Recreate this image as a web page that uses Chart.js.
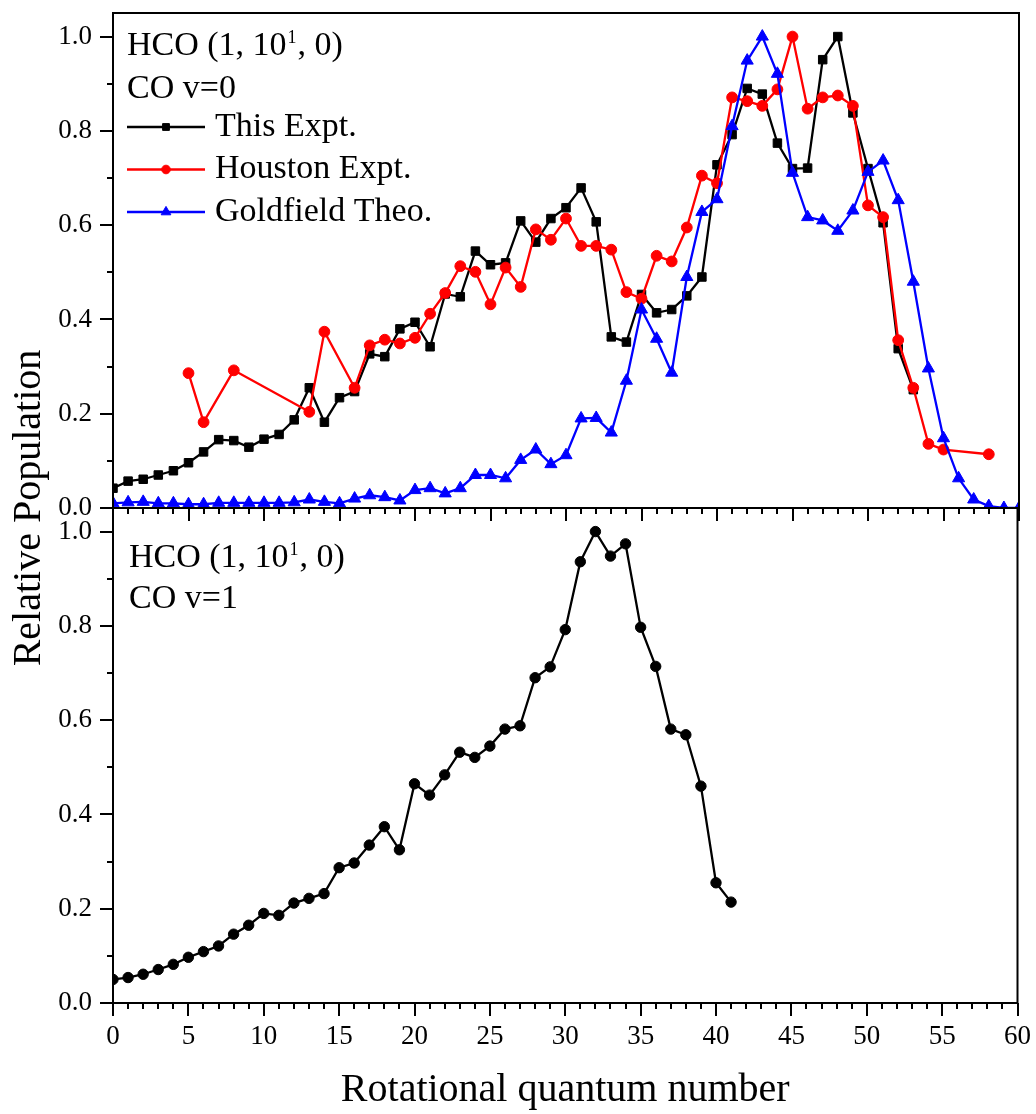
<!DOCTYPE html>
<html>
<head>
<meta charset="utf-8">
<title>HCO rotational distributions</title>
<script src="https://cdn.jsdelivr.net/npm/chart.js@4.4.1/dist/chart.umd.min.js"></script>
<style>
  html, body { margin: 0; padding: 0; background: #ffffff; }
  #wrap { position: relative; width: 1036px; height: 1114px; }
  #wrap canvas { position: absolute; left: 0; top: 0; }
</style>
</head>
<body>
<div id="wrap">
  <canvas id="lower" width="1036" height="1114"></canvas>
  <canvas id="upper" width="1036" height="1114"></canvas>
</div>
<script>
// ---- CO v=0 : rotational quantum number J and relative populations ----
const jThis = [0,1,2,3,4,5,6,7,8,9,10,11,12,13,14,15,16,17,18,19,20,21,22,23,24,25,26,
  27,28,29,30,31,32,33,34,35,36,37,38,39,40,41,42,43,44,45,46,47,48,49,50,51,52,53];
const popThis = [0.042,0.057,0.061,0.070,0.079,0.096,0.119,0.145,0.143,0.129,0.146,0.156,
  0.187,0.255,0.182,0.234,0.247,0.327,0.321,0.380,0.394,0.342,0.454,0.448,0.545,0.516,0.520,
  0.609,0.564,0.614,0.637,0.679,0.607,0.363,0.352,0.453,0.414,0.421,0.450,0.490,0.728,0.792,
  0.890,0.878,0.774,0.720,0.721,0.951,1.000,0.838,0.720,0.605,0.338,0.251];

const jHouston = [5,6,8,13,14,16,17,18,19,20,21,22,23,24,25,26,27,28,29,30,31,32,33,34,35,
  36,37,38,39,40,41,42,43,44,45,46,47,48,49,50,51,52,53,54,55,58];
const popHouston = [0.286,0.182,0.292,0.204,0.374,0.255,0.345,0.357,0.349,0.361,0.412,0.456,
  0.513,0.501,0.432,0.510,0.469,0.591,0.569,0.614,0.556,0.556,0.548,0.458,0.444,0.535,0.523,
  0.595,0.705,0.689,0.871,0.863,0.853,0.888,1.000,0.847,0.871,0.875,0.853,0.642,0.617,0.356,
  0.255,0.136,0.124,0.114];

const jTheo = [0,1,2,3,4,5,6,7,8,9,10,11,12,13,14,15,16,17,18,19,20,21,22,23,24,25,26,27,
  28,29,30,31,32,33,34,35,36,37,38,39,40,41,42,43,44,45,46,47,48,49,50,51,52,53,54,55,56,57,
  58,59,60];
const popTheo = [0.010,0.012,0.013,0.010,0.010,0.008,0.008,0.011,0.011,0.011,0.011,0.011,
  0.012,0.018,0.013,0.010,0.020,0.027,0.023,0.016,0.038,0.042,0.031,0.042,0.070,0.070,0.063,
  0.102,0.124,0.093,0.112,0.190,0.191,0.160,0.270,0.421,0.359,0.287,0.490,0.628,0.655,0.810,
  0.949,1.000,0.921,0.711,0.617,0.610,0.588,0.631,0.713,0.737,0.653,0.480,0.296,0.148,0.063,
  0.018,0.004,0.000,0.000];

// ---- CO v=1 ----
const jV1 = [0,1,2,3,4,5,6,7,8,9,10,11,12,13,14,15,16,17,18,19,20,21,22,23,24,25,26,27,28,
  29,30,31,32,33,34,35,36,37,38,39,40,41];
const popV1 = [0.050,0.054,0.061,0.071,0.082,0.097,0.109,0.121,0.146,0.165,0.190,0.186,0.212,
  0.222,0.232,0.287,0.297,0.335,0.374,0.325,0.465,0.441,0.484,0.532,0.521,0.545,0.581,0.588,
  0.690,0.713,0.792,0.936,1.000,0.948,0.974,0.797,0.714,0.581,0.569,0.460,0.255,0.214];

// ---- labels ----
const seriesNames = ['This Expt.', 'Houston Expt.', 'Goldfield Theo.'];
const panelLabels = [['HCO (1, 10', '1', ', 0)'], ['CO v=0', 'CO v=1']];
const xTitle = 'Rotational quantum number';
const yTitle = 'Relative Population';

const SERIF = "'Liberation Serif', 'Times New Roman', serif";
const W = 1036, H = 1114;
const PLOT_LEFT = 113, PLOT_RIGHT = 1019, TOP_Y = 13, MID_Y = 508, BOT_Y = 1003;

Chart.defaults.font.family = SERIF;
Chart.defaults.color = '#000';

const pts = (xs, ys) => xs.map((x, i) => ({ x: x, y: ys[i] }));

function drawMarker(ctx, style, r, x, y, color) {
  ctx.fillStyle = color; ctx.strokeStyle = color; ctx.lineWidth = 1;
  if (Chart.helpers && Chart.helpers.drawPoint) {
    Chart.helpers.drawPoint(ctx, { pointStyle: style, radius: r, rotation: 0, borderWidth: 1 }, x, y);
    return;
  }
  ctx.beginPath(); ctx.arc(x, y, r, 0, Math.PI * 2); ctx.fill(); ctx.stroke();
}

function drawHcoLabel(ctx, x, y) {
  const [a, sup, b] = panelLabels[0];
  ctx.textAlign = 'left'; ctx.textBaseline = 'alphabetic'; ctx.fillStyle = '#000';
  ctx.font = `34px ${SERIF}`;
  ctx.fillText(a, x, y);
  let cx = x + ctx.measureText(a).width + 1;
  ctx.font = `18px ${SERIF}`;
  ctx.fillText(sup, cx, y - 12);
  cx += ctx.measureText(sup).width + 1;
  ctx.font = `34px ${SERIF}`;
  ctx.fillText(b, cx, y);
}

// frame, outward tick marks (major every 5 / 0.2, minor every 1 / 0.1)
const panelFrame = {
  id: 'panelFrame',
  afterDraw(chart) {
    const { ctx, chartArea: a, scales } = chart;
    const xs = scales.x, ys = scales.y;
    ctx.save();
    ctx.strokeStyle = '#000'; ctx.lineWidth = 2; ctx.lineCap = 'butt';
    ctx.strokeRect(a.left, a.top, a.right - a.left, a.bottom - a.top);
    ctx.beginPath();
    for (let v = xs.min; v <= xs.max; v++) {
      const px = Math.round(xs.getPixelForValue(v));
      const len = v % 5 === 0 ? 13 : 6;
      ctx.moveTo(px, a.bottom); ctx.lineTo(px, a.bottom + len);
    }
    ys.ticks.forEach(t => {
      const py = Math.round(ys.getPixelForValue(t.value));
      const len = t.label ? 13 : 6;
      ctx.moveTo(a.left, py); ctx.lineTo(a.left - len, py);
    });
    ctx.stroke();
    ctx.restore();
  }
};

function yScale() {
  return {
    type: 'linear', min: 0, max: 1.05,
    afterFit: s => { s.width = PLOT_LEFT; s.paddingTop = 0; s.paddingBottom = 0; },
    border: { display: false },
    grid: { drawOnChartArea: false, drawTicks: true, tickLength: 13, tickColor: 'rgba(0,0,0,0)' },
    ticks: {
      stepSize: 0.1, includeBounds: false, autoSkip: false, padding: 8,
      font: { size: 27, family: SERIF }, color: '#000',
      callback: v => { const r = Math.round(v * 10); return r % 2 === 0 ? (r / 10).toFixed(1) : ''; }
    }
  };
}

const common = {
  responsive: false, animation: false, devicePixelRatio: 1,
  plugins: { legend: { display: false }, tooltip: { enabled: false } },
  elements: { line: { tension: 0, borderWidth: 2.3 } }
};

// ---------- lower panel: CO v=1 ----------
new Chart(document.getElementById('lower'), {
  type: 'line',
  data: {
    datasets: [{
      data: pts(jV1, popV1), borderColor: '#000', backgroundColor: '#000',
      pointStyle: 'circle', pointRadius: 5.2, pointBorderWidth: 1, borderWidth: 2.3
    }]
  },
  options: Object.assign({}, common, {
    layout: { padding: { top: MID_Y, right: W - PLOT_RIGHT, bottom: 0, left: 0 } },
    scales: {
      x: {
        type: 'linear', min: 0, max: 60,
        afterFit: s => { s.height = H - BOT_Y; },
        border: { display: false },
        grid: { drawOnChartArea: false, drawTicks: true, tickLength: 13, tickColor: 'rgba(0,0,0,0)' },
        ticks: { stepSize: 5, padding: 5, maxRotation: 0, font: { size: 27, family: SERIF }, color: '#000' },
        title: { display: true, text: xTitle, font: { size: 40, family: SERIF }, color: '#000', padding: { top: 0, bottom: 0 } }
      },
      y: yScale()
    }
  }),
  plugins: [panelFrame, {
    id: 'lowerText',
    afterDraw(chart) {
      const { ctx, chartArea: a } = chart;
      ctx.save();
      drawHcoLabel(ctx, a.left + 16, a.top + 59);
      ctx.font = `34px ${SERIF}`;
      ctx.fillText(panelLabels[1][1], a.left + 16, a.top + 100);
      // shared y-axis title, centred on both panels
      ctx.translate(29, (TOP_Y + BOT_Y) / 2);
      ctx.rotate(-Math.PI / 2);
      ctx.font = `40px ${SERIF}`;
      ctx.textAlign = 'center'; ctx.textBaseline = 'middle';
      ctx.fillText(yTitle, 0, 0);
      ctx.restore();
    }
  }]
});

// ---------- upper panel: CO v=0 ----------
const styles = [
  { color: '#000000', style: 'rect', r: 6 },
  { color: '#ff0000', style: 'circle', r: 5.4 },
  { color: '#0000ff', style: 'triangle', r: 7 }
];
const upperSets = [pts(jThis, popThis), pts(jHouston, popHouston), pts(jTheo, popTheo)];

new Chart(document.getElementById('upper'), {
  type: 'line',
  data: {
    datasets: upperSets.map((d, i) => ({
      label: seriesNames[i], data: d, order: 3 - i,
      borderColor: styles[i].color, backgroundColor: styles[i].color,
      pointBackgroundColor: styles[i].color, pointBorderColor: styles[i].color,
      pointStyle: styles[i].style, pointRadius: styles[i].r, pointBorderWidth: 1, borderWidth: 2.3
    }))
  },
  options: Object.assign({}, common, {
    layout: { padding: { top: TOP_Y, right: W - PLOT_RIGHT, bottom: H - MID_Y, left: 0 } },
    scales: {
      x: { type: 'linear', min: 0, max: 60, display: false },
      y: yScale()
    }
  }),
  plugins: [panelFrame, {
    id: 'upperText',
    afterDraw(chart) {
      const { ctx, chartArea: a } = chart;
      ctx.save();
      drawHcoLabel(ctx, a.left + 14, a.top + 42);
      ctx.font = `34px ${SERIF}`;
      ctx.fillText(panelLabels[1][0], a.left + 14, a.top + 85);
      // legend: line with centred marker, then the series name
      styles.forEach((s, i) => {
        const y = a.top + 114 + i * 42.5;
        const x0 = a.left + 14, x1 = a.left + 92;
        ctx.strokeStyle = s.color; ctx.lineWidth = 2.3;
        ctx.beginPath(); ctx.moveTo(x0, y); ctx.lineTo(x1, y); ctx.stroke();
        drawMarker(ctx, s.style, s.r * 0.8, (x0 + x1) / 2, y, s.color);
        ctx.fillStyle = '#000';
        ctx.font = `34px ${SERIF}`; ctx.textAlign = 'left'; ctx.textBaseline = 'middle';
        ctx.fillText(seriesNames[i], a.left + 102, y);
      });
      ctx.restore();
    }
  }]
});
</script>
</body>
</html>
